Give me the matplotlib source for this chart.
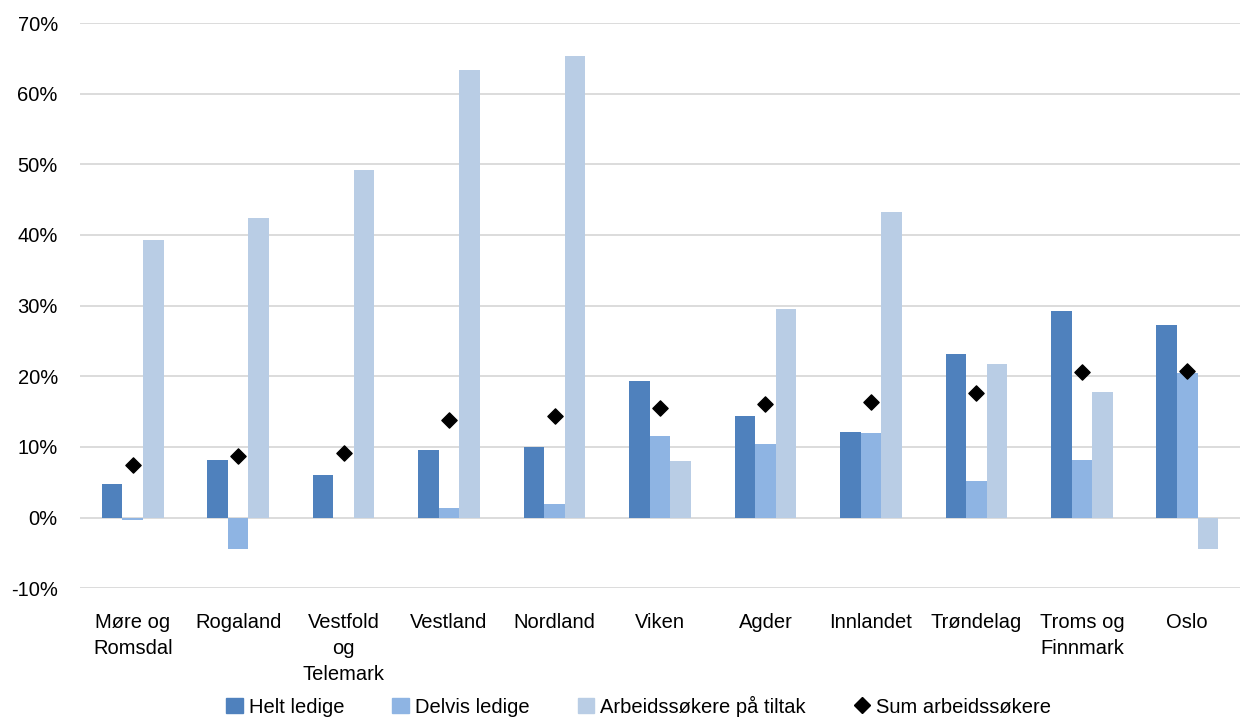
import matplotlib.pyplot as plt
import numpy as np
from matplotlib.ticker import PercentFormatter
from matplotlib.lines import Line2D
from matplotlib.patches import Patch

plt.rcParams['font.family'] = ['Liberation Sans', 'DejaVu Sans']
plt.rcParams['axes.unicode_minus'] = False

# Data (prosent)
fylker = ["Møre og\nRomsdal", "Rogaland", "Vestfold\nog\nTelemark", "Vestland", "Nordland",
          "Viken", "Agder", "Innlandet", "Trøndelag", "Troms og\nFinnmark", "Oslo"]
helt_ledige = [4.7, 8.2, 6.0, 9.6, 10.0, 19.3, 14.4, 12.1, 23.2, 29.2, 27.2]
delvis_ledige = [-0.3, -4.4, 0.0, 1.4, 1.9, 11.5, 10.4, 12.0, 5.2, 8.1, 20.4]
tiltak = [39.3, 42.4, 49.2, 63.4, 65.4, 8.0, 29.5, 43.2, 21.8, 17.8, -4.5]
sum_arbeidssokere = [7.5, 8.7, 9.2, 13.8, 14.3, 15.5, 16.0, 16.4, 17.6, 20.6, 20.8]

c_helt = '#4F81BD'
c_delvis = '#8EB4E3'
c_tiltak = '#B9CDE5'

fig = plt.figure(figsize=(12.4, 7.19), dpi=100)
ax = fig.add_axes([0.0645, 0.182, 0.9355, 0.786])

x = np.arange(len(fylker))
w = 0.195
ax.bar(x - w, helt_ledige, w, color=c_helt, zorder=3)
ax.bar(x, delvis_ledige, w, color=c_delvis, zorder=3)
ax.bar(x + w, tiltak, w, color=c_tiltak, zorder=3)
ax.scatter(x, sum_arbeidssokere, marker='D', s=60, color='black', zorder=4)

ax.set_ylim(-10, 70)
ax.set_xlim(-0.5, len(fylker) - 0.5)
ax.set_yticks(np.arange(-10, 71, 10))
ax.yaxis.set_major_formatter(PercentFormatter(decimals=0))
ax.grid(axis='y', color='#D9D9D9', linewidth=1.3, zorder=0)
ax.set_axisbelow(True)
for s in ax.spines.values():
    s.set_visible(False)
ax.tick_params(axis='both', length=0, labelsize=14.5, colors='black')
ax.tick_params(axis='y', pad=16)
ax.set_xticks(x)
ax.set_xticklabels(fylker, linespacing=1.45)
ax.tick_params(axis='x', pad=18)

handles = [Patch(color=c_helt), Patch(color=c_delvis), Patch(color=c_tiltak),
           Line2D([], [], marker='D', color='black', linestyle='', markersize=8)]
labels = ['Helt ledige', 'Delvis ledige', 'Arbeidssøkere på tiltak', 'Sum arbeidssøkere']
fig.legend(handles, labels, loc='lower center', bbox_to_anchor=(0.515, -0.022), ncol=4,
           frameon=False, fontsize=14.5, handlelength=0.8, handleheight=0.8,
           handletextpad=0.3, columnspacing=2.4)

fig.savefig('out.png', dpi=100)
